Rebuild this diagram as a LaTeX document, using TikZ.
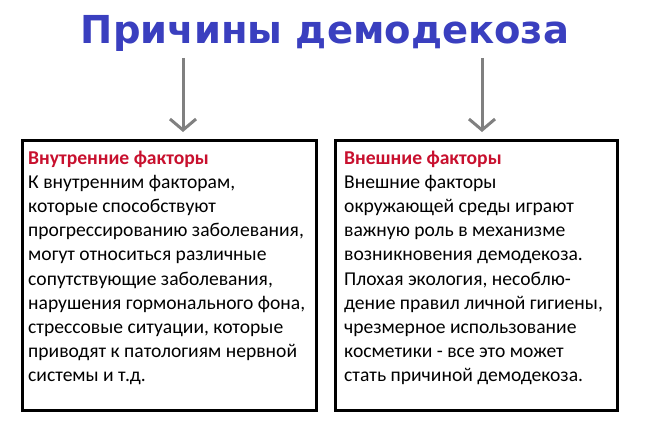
\documentclass[tikz,border=0pt]{standalone}
\usetikzlibrary{arrows.meta}
\usepackage{fontspec}
\setmainfont{Carlito}
\newfontfamily\titlefont{DejaVu Sans}
\definecolor{titleblue}{HTML}{3A3FBF}
\definecolor{headred}{HTML}{C8102E}
\definecolor{arrowgray}{HTML}{808080}
\begin{document}
\begin{tikzpicture}[x=1pt,y=-1pt,
  panel/.style={draw=black,line width=3pt,minimum height=270pt,inner sep=0pt},
  body/.style={anchor=north west,align=left,inner sep=0pt,font=\fontsize{19.6}{24.1}\selectfont},
  down/.style={draw=arrowgray,line width=3pt,-{Straight Barb[length=11pt,width=26pt,line width=3pt]}}]
\useasboundingbox (0,0) rectangle (650,433);
\node[font=\titlefont\bfseries\fontsize{38.5}{42}\selectfont,text=titleblue] (title) at (325,33) {Причины демодекоза};
\coordinate (a1) at (183,58); \coordinate (a2) at (482,58);
\node[panel,minimum width=294pt] (lb) at (169,275) {};
\node[panel,minimum width=282pt] (rb) at (476,275) {};
\coordinate (e1) at (183,132); \coordinate (e2) at (482,132);
\draw[down] (a1) -- (e1);
\draw[down] (a2) -- (e2);
\node[body] (lt) at (28,151) {{\bfseries\color{headred}Внутренние факторы}\\
К внутренним факторам,\\
которые способствуют\\
прогрессированию заболевания,\\
могут относиться различные\\
сопутствующие заболевания,\\
нарушения гормонального фона,\\
стрессовые ситуации, которые\\
приводят к патологиям нервной\\
системы и т.д.};
\node[body] (rt) at (344,151) {{\bfseries\color{headred}Внешние факторы}\\
Внешние факторы\\
окружающей среды играют\\
важную роль в механизме\\
возникновения демодекоза.\\
Плохая экология, несоблю-\\
дение правил личной гигиены,\\
чрезмерное использование\\
косметики - все это может\\
стать причиной демодекоза.};
\end{tikzpicture}
\end{document}
